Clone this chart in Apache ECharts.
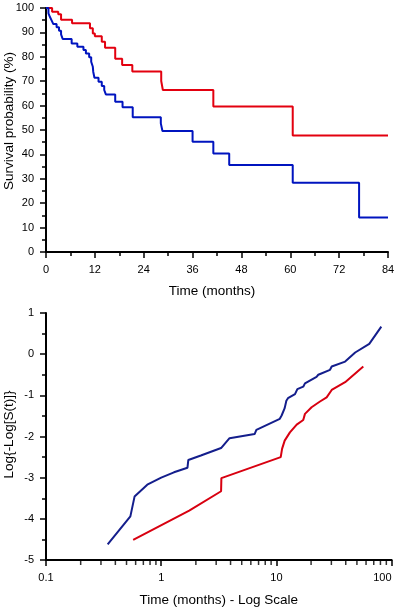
<!DOCTYPE html>
<html>
<head>
<meta charset="utf-8">
<script src="https://cdn.jsdelivr.net/npm/echarts@6/dist/echarts.min.js"></script>
<style>
html,body{margin:0;padding:0;background:#fff;}
#chart{width:394px;height:608px;}
</style>
</head>
<body>
<div id="chart"></div>
<script>
// Kaplan-Meier curves (time in months, survival in %)
var kmTimeRed = [0, 1.5, 3.0, 3.7, 6.4, 10.8, 11.5, 12.0, 13.7, 14.5, 17.0, 18.7, 21.2, 28.3, 28.7, 41.1, 60.6, 84];
var kmSurvRed = [100, 98.5, 97.4, 95.2, 93.7, 91.7, 89.6, 88.4, 86.2, 83.7, 79.2, 76.6, 74.0, 70.1, 66.4, 59.6, 47.7, 47.7];
var kmTimeBlue = [0, 0.6, 1.0, 1.4, 1.8, 2.6, 3.2, 3.7, 4.1, 6.3, 7.7, 9.2, 9.8, 10.6, 11.1, 11.5, 11.6, 11.9, 12.9, 13.7, 14.3, 14.7, 17.0, 18.8, 21.3, 28.2, 28.6, 36.0, 41.1, 45.0, 60.6, 76.9, 84];
var kmSurvBlue = [100, 97.8, 96.2, 94.8, 93.4, 92.1, 90.7, 89.2, 87.3, 85.5, 84.1, 82.8, 81.4, 79.8, 78.0, 75.9, 73.9, 71.4, 69.8, 68.0, 66.4, 64.6, 61.6, 59.3, 55.2, 52.7, 49.6, 45.2, 40.4, 35.7, 28.4, 14.1, 14.1];

// Log{-Log[S(t)]} vs time (log scale)
var llTimeBlue = [0.343, 0.54, 0.587, 0.757, 1.0, 1.29, 1.69, 1.72, 2.21, 3.31, 3.92, 6.47, 6.7, 10.7, 11.1, 11.8, 12.2, 12.6, 14.5, 15.2, 17.1, 17.7, 22.3, 23.1, 29.2, 30.2, 39.5, 48.3, 64.0, 81.4];
var llValBlue  = [-4.62, -3.94, -3.46, -3.17, -3.0, -2.87, -2.76, -2.57, -2.46, -2.28, -2.04, -1.94, -1.84, -1.57, -1.49, -1.31, -1.13, -1.07, -0.97, -0.85, -0.79, -0.71, -0.55, -0.50, -0.38, -0.30, -0.18, 0.04, 0.25, 0.67];
var llTimeRed = [0.571, 1.75, 3.31, 3.33, 10.9, 11.2, 11.8, 13.1, 15.0, 17.1, 17.7, 20.2, 23.9, 27.3, 30.2, 39.5, 56.8];
var llValRed  = [-4.51, -3.80, -3.33, -3.01, -2.50, -2.30, -2.10, -1.90, -1.71, -1.60, -1.45, -1.29, -1.15, -1.05, -0.87, -0.68, -0.30];

// Axis tick labels
var kmXTicks = [0, 12, 24, 36, 48, 60, 72, 84];
var kmYTicks = [0, 10, 20, 30, 40, 50, 60, 70, 80, 90, 100];
var llYTicks = [-5, -4, -3, -2, -1, 0, 1];
var llXTicks = [0.1, 1, 10, 100];
var llXMinor = [0.2,0.3,0.4,0.5,0.6,0.7,0.8,0.9,2,3,4,5,6,7,8,9,20,30,40,50,60,70,80,90];

function zip(a, b) { return a.map(function (v, i) { return [v, b[i]]; }); }

var FONT = "'Liberation Sans', Arial, Helvetica, sans-serif";
var lbl = { color: '#000', fontSize: 11, fontFamily: FONT };
function nm(extra) { return Object.assign({ color: '#000', fontSize: 13.5, fontFamily: FONT }, extra || {}); }
var axLine = { show: true, onZero: false, lineStyle: { color: '#000', width: 2 } };
var tickStyle = { color: '#000', width: 1.5 };

var chart = echarts.init(document.getElementById('chart'), null, { renderer: 'canvas' });
chart.setOption({
  backgroundColor: '#fff',
  animation: false,
  grid: [
    { left: 46, top: 8, width: 342, height: 244, containLabel: false, outerBoundsMode: 'none' },
    { left: 46, top: 313, width: 345.6, height: 247, containLabel: false, outerBoundsMode: 'none' }
  ],
  xAxis: [
    {
      type: 'value', gridIndex: 0, min: kmXTicks[0], max: kmXTicks[kmXTicks.length - 1], interval: 12,
      name: 'Time (months)', nameLocation: 'middle', nameGap: 32, nameMoveOverlap: false,
      nameTextStyle: nm({ padding: [0, 10, 0, 0] }),
      axisLine: axLine,
      axisTick: { show: true, length: 6, lineStyle: tickStyle },
      minorTick: { show: true, splitNumber: 2, length: 4, lineStyle: tickStyle },
      axisLabel: Object.assign({ margin: 12 }, lbl),
      splitLine: { show: false }
    },
    {
      type: 'log', gridIndex: 1, logBase: 10, min: llXTicks[0], max: llXTicks[llXTicks.length - 1],
      position: 'bottom',
      name: 'Time (months) - Log Scale', nameLocation: 'middle', nameGap: 33, nameMoveOverlap: false,
      nameTextStyle: nm(),
      axisLine: axLine,
      axisTick: { show: true, length: 6, lineStyle: tickStyle },
      axisLabel: Object.assign({ margin: 12, alignMaxLabel: 'right',
        formatter: function (v) { return String(+(+v).toPrecision(1)); } }, lbl),
      splitLine: { show: false }
    }
  ],
  yAxis: [
    {
      type: 'value', gridIndex: 0, min: kmYTicks[0], max: kmYTicks[kmYTicks.length - 1], interval: 10,
      name: 'Survival probability (%)', nameLocation: 'middle', nameGap: 30, nameMoveOverlap: false,
      nameTextStyle: nm({ padding: [0, 0, 0, 18] }),
      axisLine: axLine,
      axisTick: { show: true, length: 6, lineStyle: tickStyle },
      minorTick: { show: true, splitNumber: 2, length: 4, lineStyle: tickStyle },
      axisLabel: Object.assign({ margin: 12 }, lbl),
      splitLine: { show: false }
    },
    {
      type: 'value', gridIndex: 1, min: llYTicks[0], max: llYTicks[llYTicks.length - 1], interval: 1,
      name: 'Log{-Log[S(t)]}', nameLocation: 'middle', nameGap: 30, nameMoveOverlap: false,
      nameTextStyle: nm({ padding: [0, 0, 0, 4] }),
      axisLine: axLine,
      axisTick: { show: true, length: 6, lineStyle: tickStyle },
      minorTick: { show: true, splitNumber: 2, length: 4, lineStyle: tickStyle },
      axisLabel: Object.assign({ margin: 12 }, lbl),
      splitLine: { show: false }
    }
  ],
  series: [
    { type: 'line', xAxisIndex: 0, yAxisIndex: 0, step: 'end', showSymbol: false, silent: true,
      data: zip(kmTimeRed, kmSurvRed), lineStyle: { color: '#e3000f', width: 2 } },
    { type: 'line', xAxisIndex: 0, yAxisIndex: 0, step: 'end', showSymbol: false, silent: true,
      data: zip(kmTimeBlue, kmSurvBlue), lineStyle: { color: '#0014bf', width: 2 } },
    { type: 'line', xAxisIndex: 1, yAxisIndex: 1, showSymbol: false, silent: true,
      data: zip(llTimeBlue, llValBlue), lineStyle: { color: '#141e8c', width: 2 } },
    { type: 'line', xAxisIndex: 1, yAxisIndex: 1, showSymbol: false, silent: true,
      data: zip(llTimeRed, llValRed), lineStyle: { color: '#d80010', width: 2 } },
    {
      // minor ticks (2..9 in each decade) of the log time axis, placed through the log axis itself
      type: 'scatter', xAxisIndex: 1, yAxisIndex: 1, silent: true, clip: false,
      symbol: 'rect', symbolSize: [1.5, 4], symbolOffset: [0, 3],
      itemStyle: { color: '#000' },
      data: llXMinor.map(function (t) { return [t, llYTicks[0]]; })
    }
  ]
});
</script>
</body>
</html>
